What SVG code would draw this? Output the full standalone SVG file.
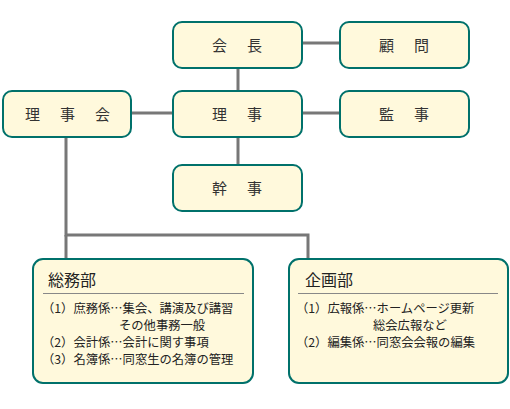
<svg xmlns="http://www.w3.org/2000/svg" width="510" height="409" viewBox="0 0 510 409">
<style>
.box{fill:#fff9dc;stroke:#00716b;stroke-width:2}
.lbl{font-family:"Noto Sans CJK JP","Noto Sans CJK SC",sans-serif;font-size:15px;fill:#333;letter-spacing:2.5px}
.ttl{font-family:"Noto Sans CJK JP","Noto Sans CJK SC",sans-serif;font-size:16px;fill:#222}
.txt{font-family:"Noto Sans CJK JP","Noto Sans CJK SC",sans-serif;font-size:12.3px;fill:#222}
.con{stroke:#777;stroke-width:3;fill:none}
.rule{stroke:#888;stroke-width:1}
</style>
<g id="connectors">
<line class="con" x1="302" y1="43" x2="340" y2="43"/>
<line class="con" x1="238" y1="68" x2="238" y2="91"/>
<line class="con" x1="131" y1="113" x2="173" y2="113"/>
<line class="con" x1="302" y1="113" x2="340" y2="113"/>
<line class="con" x1="238" y1="137" x2="238" y2="165"/>
<polyline class="con" points="66,137 66,235 308,235 308,259"/>
<line class="con" x1="66" y1="235" x2="66" y2="259"/>
</g>
<g id="kaicho"><rect class="box" x="173" y="22" width="129" height="46" rx="9"/><text class="lbl" x="212" y="51">会　長</text></g>
<g id="komon"><rect class="box" x="340" y="22" width="129" height="46" rx="9"/><text class="lbl" x="379" y="51">顧　問</text></g>
<g id="rijikai"><rect class="box" x="3" y="91" width="128" height="46" rx="9"/><text class="lbl" x="25" y="120">理　事　会</text></g>
<g id="riji"><rect class="box" x="173" y="91" width="129" height="46" rx="9"/><text class="lbl" x="212" y="120">理　事</text></g>
<g id="kanji"><rect class="box" x="340" y="91" width="129" height="46" rx="9"/><text class="lbl" x="379" y="120">監　事</text></g>
<g id="kanji2"><rect class="box" x="173" y="165" width="129" height="46" rx="9"/><text class="lbl" x="212" y="194">幹　事</text></g>
<g id="somubu">
<rect class="box" x="33" y="259" width="220" height="124" rx="10"/>
<text class="ttl" x="48" y="286">総務部</text>
<line class="rule" x1="43" y1="293.5" x2="244" y2="293.5"/>
<text class="txt" x="42" y="313">（1）庶務係…集会、講演及び講習</text>
<text class="txt" x="119" y="330">その他事務一般</text>
<text class="txt" x="42" y="347">（2）会計係…会計に関す事項</text>
<text class="txt" x="42" y="364">（3）名簿係…同窓生の名簿の管理</text>
</g>
<g id="kikakubu">
<rect class="box" x="289" y="259" width="219" height="124" rx="10"/>
<text class="ttl" x="305" y="286">企画部</text>
<line class="rule" x1="298" y1="293.5" x2="498" y2="293.5"/>
<text class="txt" x="296" y="313">（1）広報係…ホームページ更新</text>
<text class="txt" x="373" y="330">総会広報など</text>
<text class="txt" x="296" y="347">（2）編集係…同窓会会報の編集</text>
</g>
</svg>
